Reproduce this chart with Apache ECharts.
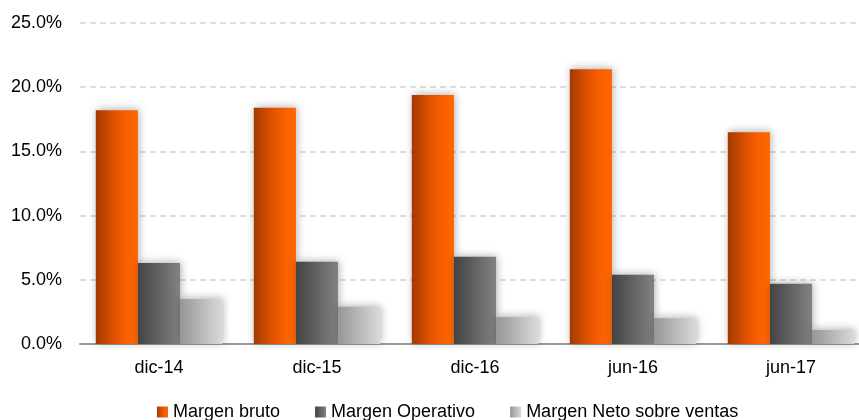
<!DOCTYPE html>
<html>
<head>
<meta charset="utf-8">
<script src="https://cdn.jsdelivr.net/npm/echarts@6/dist/echarts.min.js"></script>
<style>
  html, body { margin: 0; padding: 0; background: #fff; overflow: hidden; }
  /* canvas is a little wider than the window so the plot runs off the right edge */
  #chart { width: 870px; height: 420px; }
</style>
</head>
<body>
<div id="chart"></div>
<script>
// Periods and margin ratios (percent)
const categories = ['dic-14', 'dic-15', 'dic-16', 'jun-16', 'jun-17'];
const margenBruto = [18.2, 18.4, 19.4, 21.4, 16.5];
const margenOperativo = [6.3, 6.4, 6.8, 5.4, 4.7];
const margenNeto = [3.5, 2.9, 2.1, 2.0, 1.1];
const yTicks = { min: 0, max: 25, interval: 5 };

function hGrad(stops) {
  return new echarts.graphic.LinearGradient(0, 0, 1, 0,
    stops.map(([o, c]) => ({ offset: o, color: c })));
}

const barShadow = {
  shadowBlur: 8,
  shadowColor: 'rgba(0,0,0,0.3)',
  shadowOffsetX: 1,
  shadowOffsetY: -1
};

function barSeries(name, data, color) {
  return {
    name, type: 'bar', data,
    barGap: '0%',
    barCategoryGap: '20%',
    itemStyle: Object.assign({ color }, barShadow)
  };
}

const chart = echarts.init(document.getElementById('chart'));
chart.setOption({
  animation: false,
  textStyle: { fontFamily: 'Liberation Sans, Arial, sans-serif' },
  grid: { left: 80, right: 0, top: 23, bottom: 76 },
  legend: {
    top: 403,
    left: 157,
    padding: 0,
    itemWidth: 11,
    itemHeight: 11,
    itemGap: 35,
    icon: 'rect',
    textStyle: { fontSize: 18, color: '#000' },
    data: ['Margen bruto', 'Margen Operativo', 'Margen Neto sobre ventas']
  },
  xAxis: {
    type: 'category',
    data: categories,
    axisTick: { show: false },
    axisLine: { lineStyle: { color: '#999', width: 2 } },
    axisLabel: { color: '#000', fontSize: 18, margin: 15 }
  },
  yAxis: {
    type: 'value',
    min: yTicks.min, max: yTicks.max, interval: yTicks.interval,
    axisLine: { show: false },
    axisTick: { show: false },
    axisLabel: {
      color: '#000', fontSize: 18, margin: 18,
      formatter: v => v.toFixed(1) + '%'
    },
    splitLine: { lineStyle: { color: '#d4d4d4', type: [6, 4], width: 1.5 } }
  },
  series: [
    barSeries('Margen bruto', margenBruto,
      hGrad([[0, '#a33a00'], [0.45, '#e25300'], [0.75, '#fa6000'], [1, '#ff6600']])),
    barSeries('Margen Operativo', margenOperativo,
      hGrad([[0, '#434343'], [1, '#828282']])),
    barSeries('Margen Neto sobre ventas', margenNeto,
      hGrad([[0, '#969696'], [1, '#dadada']]))
  ]
});
</script>
</body>
</html>
